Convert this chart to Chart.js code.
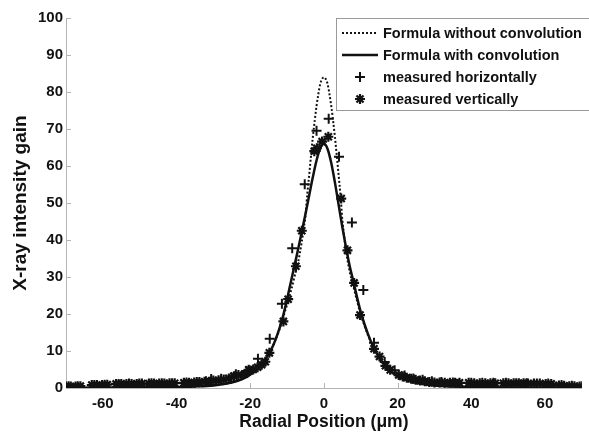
<!DOCTYPE html>
<html>
<head>
<meta charset="utf-8">
<script src="https://cdn.jsdelivr.net/npm/chart.js@4.4.1/dist/chart.umd.min.js"></script>
<style>
  html, body { margin: 0; padding: 0; background: #ffffff; }
  #wrap { width: 589px; height: 432px; }
</style>
</head>
<body>
<div id="wrap"><canvas id="c" width="589" height="432"></canvas></div>
<script>
// ---- Data ----
const xTickValues = [-60, -40, -20, 0, 20, 40, 60];
const yTickValues = [0, 10, 20, 30, 40, 50, 60, 70, 80, 90, 100];

const seriesNames = ['Formula without convolution', 'Formula with convolution',
                     'measured horizontally', 'measured vertically'];

// Formula without convolution (dotted)
const noConvX = [-70, -60, -50, -40, -35, -30, -25, -22, -20, -18, -16, -14, -12, -11, -10, -9, -8, -7, -6, -5.5, -5, -4.5, -4, -3.5, -3, -2.5, -2, -1.5, -1, -0.5, 0,
                 0.5, 1, 1.5, 2, 2.5, 3, 3.5, 4, 4.5, 5, 5.5, 6, 7, 8, 9, 10, 11, 12, 14, 16, 18, 20, 22, 25, 30, 35, 40, 50, 60, 70];
const noConvY = [0.05, 0.07, 0.12, 0.25, 0.4, 0.7, 1.5, 2.5, 3.6, 5.2, 7.6, 11, 16, 19.3, 22.5, 26, 30, 34, 39.5, 43, 46.5, 52.5, 57.5, 62.8, 67.8, 72.2, 76.2, 79.5, 82.2, 83.5, 84,
                 83.5, 82.2, 79.5, 76.2, 72.2, 67.8, 62.8, 57.5, 52, 45.5, 41, 37, 31.5, 27.5, 23.5, 19.8, 16.9, 14.2, 10, 6.8, 4.6, 3.2, 2.3, 1.4, 0.7, 0.4, 0.25, 0.12, 0.07, 0.05];

// Formula with convolution (solid)
const convX = [-70, -60, -50, -40, -35, -30, -25, -22, -20, -19, -18, -17, -16, -15, -14, -13, -12, -11, -10, -9, -8, -7, -6, -5, -4, -3, -2, -1, 0,
               1, 2, 3, 4, 5, 6, 7, 8, 9, 10, 11, 12, 13, 14, 15, 16, 17, 18, 19, 20, 22, 25, 30, 35, 40, 50, 60, 70];
const convY = [0.05, 0.07, 0.12, 0.25, 0.4, 0.7, 1.5, 2.5, 3.6, 4.3, 5.2, 6.3, 7.6, 9.2, 11, 13.4, 16.3, 19.8, 24, 28.5, 33, 37.5, 42.3, 47, 52, 57, 61.5, 64.8, 66,
               64.6, 60.8, 55.5, 49.5, 43.5, 38, 33, 28.8, 24.5, 20.5, 17.3, 14.5, 12, 10, 8.3, 6.8, 5.6, 4.6, 3.8, 3.2, 2.3, 1.4, 0.7, 0.4, 0.25, 0.12, 0.07, 0.05];

// measured horizontally (+)
const horizX = [-69.3, -66.8, -62.3, -59.5, -55.7, -52.9, -50.1, -46.8, -44, -41.2, -37.3, -34.5, -32, -30.6, -27.9, -25.1, -23.9, -21, -17.9, -14.7, -11.4, -8.6, -5.2, -2.0,
                1.3, 4.1, 7.6, 10.7, 13.6, 16.5, 19.2, 21.9, 24.3, 26.8, 29.3, 31.9, 35, 40, 43, 46, 49.4, 52.2, 55, 57.8, 60.9, 64.5, 67.3, 70];
const horizY = [0.5, 0.5, 0.8, 0.9, 1.1, 1.2, 1.2, 1.3, 1.3, 1.3, 1.5, 1.6, 1.8, 2.4, 2.5, 2.9, 3.7, 4.6, 7.9, 13.3, 22.8, 37.8, 55.1, 69.5,
                72.8, 62.5, 44.7, 26.5, 12.2, 7.0, 4.8, 3.4, 2.6, 2.2, 1.8, 1.6, 1.5, 1.4, 1.4, 1.4, 1.4, 1.3, 1.3, 1.2, 1.2, 0.8, 0.6, 0.5];

// measured vertically (*)
const vertX = [-70, -68.7, -67.4, -66.1, -63, -61.6, -60.2, -58.8, -56.4, -55, -53.6, -52.2, -50.8, -49.4,
               -47.5, -46.1, -44.7, -43.3, -41.9, -40.5, -38, -36.6, -35.2, -33.8, -32.4, -31.2,
               -30, -28.6, -27.2, -25.8, -24.4, -23.2, -21.5, -20.4, -19.2, -18, -16.9, -15.9, -14.8,
               -11.0, -9.7, -7.6, -6.0, -2.6, -1.9, -0.5, 1.2, 4.7, 6.4, 8.2, 9.8, 13.6, 15.1, 16.7, 18.0,
               20.3, 21.4, 22.5, 23.7, 24.9, 26.1, 27.4, 28.6, 30, 31.4, 32.8, 34.2, 35.6, 36.8,
               39.3, 40.8, 42.3, 43.8, 45.2, 46.5, 48.7, 50.1, 51.5, 52.9, 54.2, 55.4, 57, 58.6, 60.2, 61.7,
               63.8, 65.2, 66.6, 68, 69.4];
const vertY = [0.4, 0.4, 0.4, 0.5, 0.8, 0.8, 0.8, 0.9, 1.1, 1.1, 1.1, 1.1, 1.1, 1.2,
               1.2, 1.2, 1.2, 1.2, 1.3, 1.3, 1.4, 1.4, 1.5, 1.6, 1.7, 1.7,
               2.0, 2.1, 2.3, 2.6, 3.2, 3.5, 3.8, 4.9, 5.0, 5.6, 6.3, 7.1, 9.5,
               18, 24, 32.9, 42.5, 64.0, 64.8, 66.6, 67.9, 51.2, 37.2, 28.4, 19.7, 10.6, 8.5, 6.0, 4.9,
               3.5, 3.1, 2.8, 2.5, 2.2, 2.0, 1.8, 1.6, 1.5, 1.5, 1.4, 1.4, 1.4, 1.4,
               1.4, 1.3, 1.3, 1.3, 1.3, 1.3, 1.3, 1.3, 1.3, 1.3, 1.3, 1.2, 1.2, 1.2, 1.1, 1.1,
               0.7, 0.6, 0.5, 0.5, 0.4];

// ---- Chart ----
const FONT = '"Liberation Sans", Arial, Helvetica, sans-serif';
const INK = '#111111';
const AXIS = '#b4b4b4';
Chart.defaults.font.family = FONT;
Chart.defaults.color = INK;

const pts = (xs, ys) => xs.map((x, i) => ({ x: x, y: ys[i] }));

const decor = {
  id: 'decor',
  beforeDatasetsDraw(chart) {
    const { ctx, chartArea: a, scales: { x, y } } = chart;
    ctx.save();
    ctx.strokeStyle = AXIS;
    ctx.lineWidth = 1;
    xTickValues.forEach(v => {
      const px = Math.round(x.getPixelForValue(v)) + 0.5;
      ctx.beginPath(); ctx.moveTo(px, a.bottom); ctx.lineTo(px, a.bottom - 5); ctx.stroke();
    });
    yTickValues.forEach(v => {
      const py = Math.round(y.getPixelForValue(v)) + 0.5;
      ctx.beginPath(); ctx.moveTo(a.left, py); ctx.lineTo(a.left + 5, py); ctx.stroke();
    });
    ctx.restore();
  },
  afterDraw(chart) {
    const ctx = chart.ctx;
    const bx = 336.5, by = 18.5, bw = 260, bh = 92;
    ctx.save();
    ctx.fillStyle = '#ffffff';
    ctx.fillRect(bx, by, bw, bh);
    ctx.strokeStyle = '#9a9a9a';
    ctx.lineWidth = 1;
    ctx.strokeRect(bx, by, bw, bh);
    const rows = [33, 55, 77, 99];
    ctx.strokeStyle = INK;
    ctx.fillStyle = INK;
    ctx.lineWidth = 2;
    ctx.setLineDash([2, 2]);
    ctx.beginPath(); ctx.moveTo(342, rows[0]); ctx.lineTo(378, rows[0]); ctx.stroke();
    ctx.setLineDash([]);
    ctx.lineWidth = 2.5;
    ctx.beginPath(); ctx.moveTo(342, rows[1]); ctx.lineTo(378, rows[1]); ctx.stroke();
    ctx.lineWidth = 2;
    Chart.helpers.drawPoint(ctx, { pointStyle: 'cross', radius: 5, rotation: 0, borderWidth: 2 }, 360, rows[2]);
    ctx.lineWidth = 2.2;
    Chart.helpers.drawPoint(ctx, { pointStyle: 'star', radius: 5, rotation: 0, borderWidth: 2.2 }, 360, rows[3]);
    ctx.font = 'bold 14.5px ' + FONT;
    ctx.textBaseline = 'middle';
    ctx.textAlign = 'left';
    seriesNames.forEach((s, i) => ctx.fillText(s, 383, rows[i] + 1));
    ctx.restore();
  }
};

new Chart(document.getElementById('c'), {
  type: 'scatter',
  data: {
    datasets: [
      { label: seriesNames[3], data: pts(vertX, vertY), pointStyle: 'star', pointRadius: 5, pointBorderWidth: 2.2,
        borderColor: INK, backgroundColor: INK, showLine: false, order: 0 },
      { label: seriesNames[2], data: pts(horizX, horizY), pointStyle: 'cross', pointRadius: 5, pointBorderWidth: 2,
        borderColor: INK, backgroundColor: INK, showLine: false, order: 1 },
      { label: seriesNames[1], data: pts(convX, convY), showLine: true, pointRadius: 0, borderWidth: 2.5,
        borderColor: INK, cubicInterpolationMode: 'monotone', order: 2 },
      { label: seriesNames[0], data: pts(noConvX, noConvY), showLine: true, pointRadius: 0, borderWidth: 2,
        borderDash: [2, 2], borderColor: INK, cubicInterpolationMode: 'monotone', order: 3 }
    ]
  },
  options: {
    responsive: false,
    devicePixelRatio: 1,
    animation: false,
    layout: { padding: { top: 18, right: 1, left: 0, bottom: 0 } },
    plugins: { legend: { display: false }, tooltip: { enabled: false } },
    scales: {
      x: {
        type: 'linear', min: -70, max: 70,
        afterBuildTicks: s => { s.ticks = xTickValues.map(v => ({ value: v })); },
        afterFit: s => { s.height = 44; s.paddingLeft = 0; s.paddingRight = 0; },
        grid: { display: true, drawOnChartArea: false, drawTicks: false },
        border: { display: true, color: AXIS, width: 1 },
        ticks: { padding: 7, font: { size: 15, weight: 'bold' }, color: INK, maxRotation: 0, autoSkip: false },
        title: { display: true, text: 'Radial Position (μm)', font: { size: 17.5, weight: 'bold', lineHeight: 1 },
                 padding: { top: 0, bottom: 1 }, color: INK }
      },
      y: {
        type: 'linear', min: 0, max: 100,
        afterBuildTicks: s => { s.ticks = yTickValues.map(v => ({ value: v })); },
        afterFit: s => { s.width = 66; },
        grid: { display: true, drawOnChartArea: false, drawTicks: false },
        border: { display: true, color: AXIS, width: 1 },
        ticks: { padding: 3, font: { size: 15, weight: 'bold' }, color: INK, autoSkip: false },
        title: { display: true, text: 'X-ray intensity gain', font: { size: 19, weight: 'bold', lineHeight: 1 },
                 padding: { top: 11, bottom: 0 }, color: INK }
      }
    }
  },
  plugins: [decor]
});
</script>
</body>
</html>
